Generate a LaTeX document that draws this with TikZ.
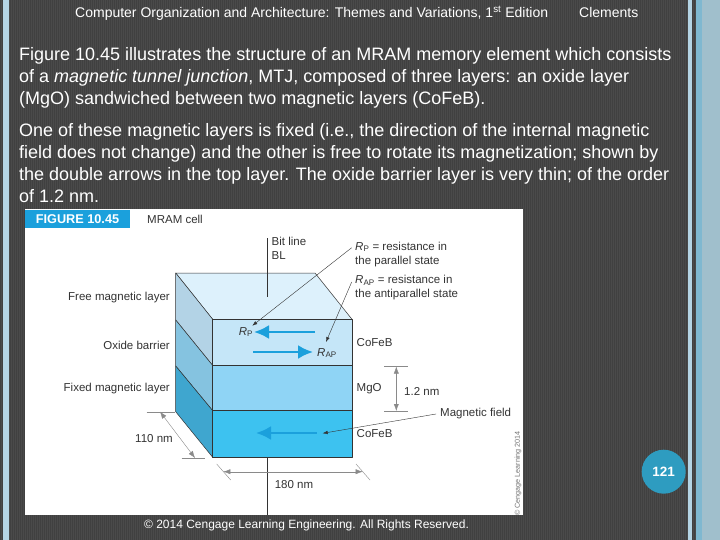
\documentclass[tikz,border=0pt]{standalone}
\usepackage{fontspec}
\usetikzlibrary{arrows.meta}
\setmainfont{Liberation Sans}
\definecolor{slidebg}{HTML}{4A4A4A}
\definecolor{slidestripe}{HTML}{404040}
\definecolor{bandblue}{HTML}{A0BFCC}
\definecolor{bandlight}{HTML}{B4D4E4}
\definecolor{banddeep}{HTML}{7FB8D0}
\definecolor{figblue}{HTML}{1BA0DC}
\definecolor{topface}{HTML}{DDF1FC}
\definecolor{freeside}{HTML}{B3D3E6}
\definecolor{freefront}{HTML}{C5E6F8}
\definecolor{oxideside}{HTML}{85C3E0}
\definecolor{oxidefront}{HTML}{8FD4F5}
\definecolor{fixedside}{HTML}{3FA6CF}
\definecolor{fixedfront}{HTML}{3DC2F0}
\definecolor{badge}{HTML}{2E9CC0}
\definecolor{dimgray}{HTML}{8A8A8A}
\tikzset{
	headtext/.style={text=white, inner sep=0pt, anchor=base west, font=\fontsize{14}{16}\selectfont},
	bodytext/.style={text=white, inner sep=0pt, anchor=north west, align=left, font=\fontsize{18}{22}\selectfont},
	figlabel/.style={inner sep=0pt, text=black!80, align=left, font=\fontsize{11.5}{14}\selectfont},
	leader/.style={->, thin, black!80, >={Latex[length=5pt,width=3.5pt]}},
	field/.style={->, line width=2.5pt, figblue, >={Latex[length=15pt,width=14pt]}},
	dimline/.style={<->, dimgray, thin, >={Latex[length=7pt,width=5pt]}},
	dimtick/.style={dimgray, thin},
	layer/.style={draw=black!80, line width=0.5pt, line join=round}
}
\begin{document}
\begin{tikzpicture}[x=1pt, y=-1pt, >=latex]
	\useasboundingbox (0,0) rectangle (720,540);
	% slide background
	\fill[slidebg] (0,0) rectangle (720,540);
	\foreach \x in {0,2,...,720} {
			\draw[slidestripe, line width=1pt] (\x,0) -- (\x,540);
		}
	\fill[bandlight] (3,0) rectangle (9,540);
	\fill[bandlight] (688,0) rectangle (692,540);
	\fill[banddeep] (696,0) rectangle (702,540);
	\fill[bandblue] (702,0) rectangle (720,540);

	% slide text
	\node[headtext] (title) at (75,18) {Computer Organization and Architecture: Themes and Variations, 1\textsuperscript{st} Edition};
	\node[headtext] (author) at (579,18) {Clements};
	\node[bodytext] (intro) at (19,47) {Figure 10.45 illustrates the structure of an MRAM memory element which consists\\
		of a \textit{magnetic tunnel junction}, MTJ, composed of three layers: an oxide layer\\
		(MgO) sandwiched between two magnetic layers (CoFeB).};
	\node[bodytext] (detail) at (19,123) {One of these magnetic layers is fixed (i.e., the direction of the internal magnetic\\
		field does not change) and the other is free to rotate its magnetization; shown by\\
		the double arrows in the top layer. The oxide barrier layer is very thin; of the order\\
		of 1.2 nm.};

	% figure sheet
	\fill[white] (25,209.5) rectangle (523.3,515);
	\fill[figblue] (25,210) rectangle (130,228);
	\node[inner sep=0pt, text=white, font=\fontsize{12.7}{14}\bfseries\selectfont] (figtag) at (77.5,219.5) {FIGURE 10.45};
	\node[figlabel, anchor=west] (figname) at (147,219.5) {MRAM cell};

	% cell faces
	\filldraw[layer, fill=topface] (175.7,273) -- (315,273) -- (352,319.3) -- (212.7,319.3) -- cycle;
	\filldraw[layer, fill=freeside] (175.7,273) -- (212.7,319.3) -- (212.7,365.5) -- (175.7,320) -- cycle;
	\filldraw[layer, fill=oxideside] (175.7,320) -- (212.7,365.5) -- (212.7,410.7) -- (175.7,366) -- cycle;
	\filldraw[layer, fill=fixedside] (175.7,366) -- (212.7,410.7) -- (212.7,457.3) -- (175.7,411.7) -- cycle;
	\filldraw[layer, fill=freefront] (212.7,319.3) rectangle (352,365.5);
	\filldraw[layer, fill=oxidefront] (212.7,365.5) rectangle (352,410.7);
	\filldraw[layer, fill=fixedfront] (212.7,410.7) rectangle (352,457.3);

	% layer names
	\node[figlabel, anchor=east] (freename) at (170,297.5) {Free magnetic layer};
	\node[figlabel, anchor=east] (oxidename) at (170,345) {Oxide barrier};
	\node[figlabel, anchor=east] (fixedname) at (170,389) {Fixed magnetic layer};
	\node[figlabel, anchor=west] (cofebtop) at (356.5,343) {CoFeB};
	\node[figlabel, anchor=west] (mgo) at (356.5,389) {MgO};
	\node[figlabel, anchor=west] (cofebbot) at (356.5,434) {CoFeB};
	\node[figlabel, anchor=north west] (bitline) at (271.5,236.5) {Bit line\\BL};
	\node[figlabel, anchor=north west] (rptext) at (355,241.5) {\textit{R}\textsubscript{P} = resistance in\\the parallel state};
	\node[figlabel, anchor=north west] (raptext) at (355,275) {\textit{R}\textsubscript{AP} = resistance in\\the antiparallel state};
	\node[figlabel, anchor=west] (fieldname) at (440,414) {Magnetic field};
	\node[figlabel] (rplabel) at (246,332) {\textit{R}\textsubscript{P}};
	\node[figlabel] (raplabel) at (327,353) {\textit{R}\textsubscript{AP}};

	% bit line
	\coordinate (bittop) at (266.7,238);
	\coordinate (bitend) at (266.7,296.7);
	\coordinate (cellbot) at (266.7,457.3);
	\coordinate (sheetbot) at (266.7,515);
	\draw[black!80, thin] (bittop) -- (bitend);
	\draw[black!80, thin] (cellbot) -- (sheetbot);

	% magnetization
	\coordinate (freeL) at (254,332);
	\coordinate (freeR) at (315,332);
	\coordinate (flipL) at (253,352);
	\coordinate (flipR) at (313,352);
	\coordinate (fixedL) at (256,433);
	\coordinate (fixedR) at (316.7,433);
	\draw[field] (freeR) -- (freeL);
	\draw[field] (flipL) -- (flipR);
	\draw[field] (fixedR) -- (fixedL);

	% leaders
	\coordinate (rpfoot) at (351.7,247.7);
	\coordinate (rptip) at (252.3,325.7);
	\coordinate (rapfoot) at (351.7,282);
	\coordinate (raptip) at (326,342);
	\coordinate (fieldfoot) at (436,414);
	\coordinate (fieldtip) at (322.7,433.3);
	\draw[leader] (rpfoot) -- (rptip);
	\draw[leader] (rapfoot) -- (raptip);
	\draw[leader] (fieldfoot) -- (fieldtip);

	% dimensions
	\coordinate (depthA) at (160,411.7);
	\coordinate (depthB) at (195,458);
	\coordinate (widthA) at (223.3,471.7);
	\coordinate (widthB) at (362.7,471.7);
	\coordinate (highA) at (396.3,366.5);
	\coordinate (highB) at (396.3,411);
	\draw[dimtick] (146.7,411.7) -- (175,411.7);
	\draw[dimtick] (181.7,458.3) -- (205,458.3);
	\draw[dimtick] (216.7,464) -- (230.7,480);
	\draw[dimtick] (356,464) -- (370,480);
	\draw[dimtick] (384,366.3) -- (407.7,366.3);
	\draw[dimtick] (384,411.3) -- (407.7,411.3);
	\draw[dimline] (depthA) -- (depthB);
	\draw[dimline] (widthA) -- (widthB);
	\draw[dimline] (highA) -- (highB);
	\node[figlabel] (depthtext) at (154,439) {110 nm};
	\node[figlabel] (widthtext) at (294,485) {180 nm};
	\node[figlabel, anchor=west] (hightext) at (404,391) {1.2 nm};
	\node[inner sep=0pt, rotate=90, text=black!55, font=\fontsize{7.2}{9}\selectfont] (credit) at (518,473.5) {© Cengage Learning 2014};

	% footer
	\node[text=white, inner sep=0pt, font=\fontsize{12}{14}\selectfont] (footer) at (306.5,525.5) {© 2014 Cengage Learning Engineering. All Rights Reserved.};
	\node[circle, fill=badge, minimum size=44pt, inner sep=0pt, text=white, font=\fontsize{13.5}{15}\bfseries\selectfont] (page) at (663.7,471.7) {121};
\end{tikzpicture}
\end{document}
